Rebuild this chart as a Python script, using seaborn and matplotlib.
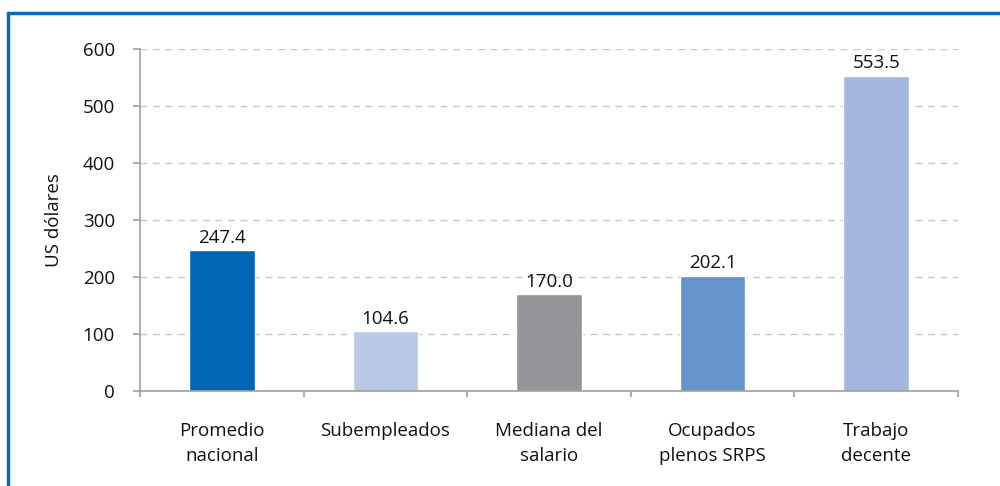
import numpy as np
import pandas as pd
import matplotlib
matplotlib.use("Agg")
import matplotlib.pyplot as plt
from matplotlib.lines import Line2D
import seaborn as sns

# Data
categories = ["Promedio\nnacional", "Subempleados", "Mediana del\nsalario",
              "Ocupados\nplenos SRPS", "Trabajo\ndecente"]
values = [247.4, 104.6, 170.0, 202.1, 553.5]
bar_colors = ["#0066B3", "#B9C9E6", "#939598", "#6492CB", "#A3B6DD"]
y_ticks = [0, 100, 200, 300, 400, 500, 600]

sns.set_theme(style="white")
plt.rcParams['font.family'] = ['Open Sans', 'DejaVu Sans']

FS = 13.5
TXT = "#111111"

df = pd.DataFrame({"categoria": categories, "valor": values})

fig = plt.figure(figsize=(10, 4.86), dpi=100)
ax = fig.add_axes([0.14, 0.1955, 0.818, 0.7035])

sns.barplot(data=df, x="categoria", y="valor", hue="categoria",
            palette=bar_colors, width=0.4, legend=False, ax=ax,
            saturation=1)

ax.set_ylim(0, 600)
ax.set_xlim(-0.5, len(categories) - 0.5)
ax.set_yticks(y_ticks)
ax.yaxis.grid(True, linestyle=(0, (5, 4)), color="#C8C8C8", linewidth=1)
ax.set_axisbelow(True)

for side in ["top", "right"]:
    ax.spines[side].set_visible(False)
for side in ["left", "bottom"]:
    ax.spines[side].set_color("#A0A0A0")
    ax.spines[side].set_linewidth(1.2)

ax.set_xlabel("")
ax.set_ylabel("US dólares", fontsize=FS, color=TXT, labelpad=14)

# category separators as minor ticks on the x axis
ax.set_xticks(np.arange(-0.5, len(categories), 1.0), minor=True)
ax.tick_params(axis="x", which="major", length=0, pad=22,
               labelsize=FS, labelcolor=TXT)
for lbl in ax.get_xticklabels():
    lbl.set_linespacing(1.5)
ax.tick_params(axis="x", which="minor", length=4.5, width=1.2,
               color="#A0A0A0", direction="out", bottom=True)
ax.tick_params(axis="y", length=5, width=1.2, color="#A0A0A0",
               direction="out", left=True, labelsize=FS,
               labelcolor=TXT, pad=13)

for i, v in enumerate(values):
    ax.text(i, v + 6, f"{v:.1f}", ha="center", va="bottom",
            fontsize=FS, color=TXT)

# blue frame around the figure (top and left edges visible)
fig.add_artist(Line2D([0.008, 1.0], [1 - 13 / 486, 1 - 13 / 486],
                      transform=fig.transFigure, color="#0A6CB8",
                      linewidth=2.5))
fig.add_artist(Line2D([0.008, 0.008], [0.0, 1 - 13 / 486],
                      transform=fig.transFigure, color="#0A6CB8",
                      linewidth=2.5))

fig.savefig("out.png", dpi=100)
